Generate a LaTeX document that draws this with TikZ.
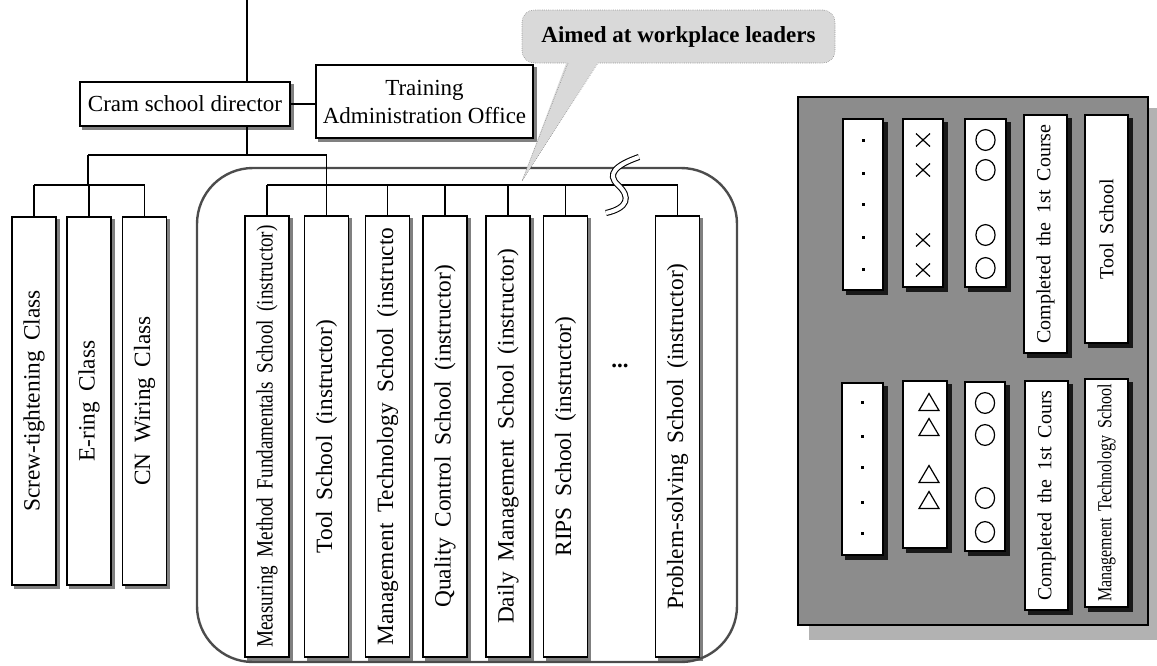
\documentclass[tikz,border=0pt]{standalone}
\usepackage{fontspec}
\setmainfont{Liberation Serif}
\usepackage{graphicx}
\pgfdeclarelayer{back}
\pgfdeclarelayer{shade}
\pgfsetlayers{back,shade,main}

\tikzset{
  box/.style={draw, line width=1.1pt, fill=white, inner sep=0pt, align=center},
  base/.style={font={\fontsize{17.25pt}{21pt}\selectfont}},
  wide/.style={font={\fontsize{17.5pt}{21pt}\selectfont\spaceskip=0.45em plus 0.15em minus 0.05em\relax}},
  pwide/.style={font={\fontsize{15pt}{18pt}\selectfont\spaceskip=0.45em plus 0.15em minus 0.05em\relax}},
  vbox/.style={box, wide, rotate=90, minimum height=44*0.75pt},
  pbox/.style={box, pwide, rotate=90},
  conn/.style={line width=1.1pt},
  symstroke/.style={line width=0.9pt},
}

\begin{document}
\begin{tikzpicture}[x=0.75pt, y=-0.75pt]
\useasboundingbox (0,0) rectangle (1157,665);

% ---------- right-hand panel background ----------
\begin{pgfonlayer}{back}
  \fill[black!30] (809,108) rectangle (1157,640);
  \filldraw[fill=black!45, draw=black, line width=1.2pt] (798,97) rectangle (1148,625);
\end{pgfonlayer}

% ---------- group outline for the leader schools ----------
\draw[line width=1.8pt, black!70, rounded corners=42pt] (197,168) rectangle (737,662);

% ---------- top of the hierarchy ----------
\node[box, base, minimum width=210*0.75pt, minimum height=44*0.75pt] (dir) at (185,104) {Cram school director};
\node[box, base, minimum width=217*0.75pt, minimum height=73*0.75pt] (tao) at (424.5,101.5) {Training\\Administration Office};

% ---------- classes ----------
\node[vbox, minimum width=368*0.75pt] (screw) at (34,401)  {Screw-tightening Class};
\node[vbox, minimum width=368*0.75pt] (ering) at (89,401)  {E-ring Class};
\node[vbox, minimum width=368*0.75pt] (cn)    at (144.5,401) {CN Wiring Class};

% ---------- schools ----------
\node[vbox, minimum width=441*0.75pt] (meas)  at (267,436.5)   {\scalebox{0.82}[1]{Measuring Method Fundamentals School (instructor)}};
\node[vbox, minimum width=441*0.75pt] (tool)  at (326.5,436.5) {Tool School (instructor)};
\node[vbox, minimum width=441*0.75pt] (mtech) at (387.5,436.5) {Management Technology School (instructo};
\node[vbox, minimum width=441*0.75pt] (qc)    at (445,436.5)   {Quality Control School (instructor)};
\node[vbox, minimum width=441*0.75pt] (daily) at (508,436.5)   {Daily Management School (instructor)};
\node[vbox, minimum width=441*0.75pt] (rips)  at (565.5,436.5) {RIPS School (instructor)};
\node[vbox, minimum width=441*0.75pt] (prob)  at (677.5,436.5) {Problem-solving School (instructor)};
\node[base, font={\fontsize{17.25pt}{21pt}\selectfont\bfseries}] (more) at (620,366) {...};

% ---------- connectors ----------
\coordinate (top) at (247,0);
\coordinate (j0)  at (247,155);
\coordinate (jl)  at (88,155);
\coordinate (bl)  at (88,185);
\coordinate (bus) at (327,185);
\draw[conn] (top) -- (top |- dir.north);
\draw[conn] (dir.east) -- (dir.east -| tao.west);
\draw[conn] (top |- dir.south) -- (j0);
\draw[conn] (jl) -- (jl -| tool.east);
\draw[conn] (jl) -- (bl);
\draw[conn] (bl -| screw.east) -- (bl -| cn.east);
\foreach \n in {screw,ering,cn} \draw[conn] (bl -| \n.east) -- (\n.east);
\draw[conn] (jl -| tool.east) -- (bus -| tool.east);
\draw[conn] (bus -| meas.east) -- (bus -| prob.east);
\foreach \n in {meas,tool,mtech,qc,daily,rips,prob} \draw[conn] (bus -| \n.east) -- (\n.east);

% break mark on the bus line
\draw[line width=0.8pt, double=white, double distance=3pt]
  (639,157) .. controls (616,165) and (606,174) .. (618,185)
            .. controls (631,197) and (628,208) .. (606,213);

% ---------- callout ----------
\node[draw=black!55, densely dotted, fill=black!15, rounded corners=9pt, inner sep=0pt,
      minimum width=313*0.75pt, minimum height=53*0.75pt,
      font={\fontsize{17.25pt}{21pt}\selectfont\bfseries}] (call) at (678.5,36.5) {Aimed at workplace leaders};
\coordinate (tip) at (522,181);
\fill[black!15] (567,61) -- (tip) -- (599,61) -- cycle;
\draw[black!55, densely dotted] (568,63) -- (tip) -- (598,63);

% ---------- right-hand panel boxes ----------
\node[pbox, minimum width=171*0.75pt, minimum height=40*0.75pt] (d1) at (863,204.5) {};
\node[pbox, minimum width=168*0.75pt, minimum height=40*0.75pt] (x1) at (923,203) {};
\node[pbox, minimum width=168*0.75pt, minimum height=41*0.75pt] (o1) at (985.5,203) {};
\node[pbox, minimum width=238*0.75pt, minimum height=43*0.75pt] (c1) at (1045.5,234) {Completed the 1st Course};
\node[pbox, minimum width=228*0.75pt, minimum height=43*0.75pt] (t1) at (1106.5,229) {Tool School};

\node[pbox, minimum width=172*0.75pt, minimum height=41*0.75pt] (d2)  at (862.5,469) {};
\node[pbox, minimum width=167*0.75pt, minimum height=44*0.75pt] (tr2) at (925,464.5) {};
\node[pbox, minimum width=169*0.75pt, minimum height=40*0.75pt] (o2)  at (985,466.5) {};
\node[pbox, minimum width=229*0.75pt, minimum height=43*0.75pt] (c2)  at (1046.5,495.5) {Completed the 1st Cours};
\node[pbox, minimum width=228*0.75pt, minimum height=43*0.75pt] (m2)  at (1106.5,493) {\scalebox{0.8}[1]{Management Technology School}};

% row symbols
\foreach \y in {140,173,204,237,269} \fill (861.5,\y-1.5) rectangle (864.5,\y+1.5);
\foreach \y in {140,170,240,270} \draw[symstroke] (916,\y-6.5) -- (930,\y+6.5) (916,\y+6.5) -- (930,\y-6.5);
\foreach \y in {140,170,235,268} \draw[symstroke] (985.5,\y) ellipse [x radius=7.2pt, y radius=7.8pt];
\foreach \y in {402,436,467,502,533} \fill (861,\y-1.5) rectangle (864,\y+1.5);
\foreach \y in {402,427,474,500} \draw[symstroke] (919,\y+8.5) -- (939,\y+8.5) -- (929,\y-8.5) -- cycle;
\foreach \y in {403,435,498,532} \draw[symstroke] (985,\y) ellipse [x radius=7.2pt, y radius=7.8pt];

% ---------- box shadows ----------
\begin{pgfonlayer}{shade}
  \foreach \n in {dir,tao,screw,ering,cn,meas,tool,mtech,qc,daily,rips,prob}
    \fill[black!50] ([shift={(3,3)}]\n.north west) rectangle ([shift={(3,3)}]\n.south east);
  \foreach \n in {d1,x1,o1,c1,t1,d2,tr2,o2,c2,m2}
    \fill[black!90] ([shift={(4,4)}]\n.north west) rectangle ([shift={(4,4)}]\n.south east);
\end{pgfonlayer}
\end{tikzpicture}
\end{document}
